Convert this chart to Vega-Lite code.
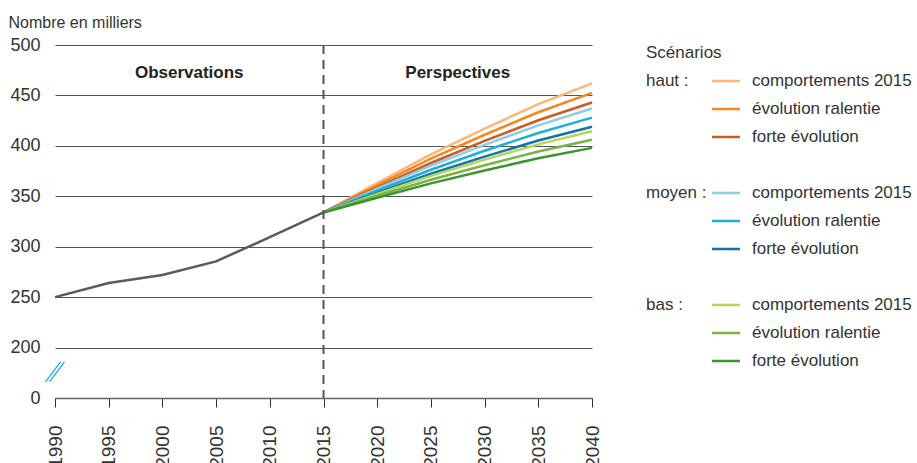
{
  "$schema": "https://vega.github.io/schema/vega-lite/v6.json",
  "padding": {"left": 8, "top": 14, "right": 0, "bottom": 0},
  "config": {
    "view": {"stroke": null},
    "font": "Liberation Sans, Arial, sans-serif",
    "text": {"font": "Liberation Sans, Arial, sans-serif", "color": "#333"}
  },
  "datasets": {
    "series": [
      {"annee": 1990, "valeur": 250, "serie": "observations"},
      {"annee": 1995, "valeur": 264, "serie": "observations"},
      {"annee": 2000, "valeur": 272, "serie": "observations"},
      {"annee": 2005, "valeur": 285.5, "serie": "observations"},
      {"annee": 2010, "valeur": 309.5, "serie": "observations"},
      {"annee": 2015, "valeur": 334, "serie": "observations"},
      {"annee": 2015, "valeur": 334, "serie": "haut_c2015"},
      {"annee": 2020, "valeur": 363.2, "serie": "haut_c2015"},
      {"annee": 2025, "valeur": 391.6, "serie": "haut_c2015"},
      {"annee": 2030, "valeur": 417.2, "serie": "haut_c2015"},
      {"annee": 2035, "valeur": 441.3, "serie": "haut_c2015"},
      {"annee": 2040, "valeur": 462, "serie": "haut_c2015"},
      {"annee": 2015, "valeur": 334, "serie": "haut_ralentie"},
      {"annee": 2020, "valeur": 361.1, "serie": "haut_ralentie"},
      {"annee": 2025, "valeur": 387.3, "serie": "haut_ralentie"},
      {"annee": 2030, "valeur": 411, "serie": "haut_ralentie"},
      {"annee": 2035, "valeur": 433.3, "serie": "haut_ralentie"},
      {"annee": 2040, "valeur": 452.5, "serie": "haut_ralentie"},
      {"annee": 2015, "valeur": 334, "serie": "haut_forte"},
      {"annee": 2020, "valeur": 358.9, "serie": "haut_forte"},
      {"annee": 2025, "valeur": 383, "serie": "haut_forte"},
      {"annee": 2030, "valeur": 404.9, "serie": "haut_forte"},
      {"annee": 2035, "valeur": 425.4, "serie": "haut_forte"},
      {"annee": 2040, "valeur": 443, "serie": "haut_forte"},
      {"annee": 2015, "valeur": 334, "serie": "moyen_c2015"},
      {"annee": 2020, "valeur": 357.5, "serie": "moyen_c2015"},
      {"annee": 2025, "valeur": 380.4, "serie": "moyen_c2015"},
      {"annee": 2030, "valeur": 401, "serie": "moyen_c2015"},
      {"annee": 2035, "valeur": 420.3, "serie": "moyen_c2015"},
      {"annee": 2040, "valeur": 437, "serie": "moyen_c2015"},
      {"annee": 2015, "valeur": 334, "serie": "moyen_ralentie"},
      {"annee": 2020, "valeur": 355.5, "serie": "moyen_ralentie"},
      {"annee": 2025, "valeur": 376.3, "serie": "moyen_ralentie"},
      {"annee": 2030, "valeur": 395.1, "serie": "moyen_ralentie"},
      {"annee": 2035, "valeur": 412.8, "serie": "moyen_ralentie"},
      {"annee": 2040, "valeur": 428, "serie": "moyen_ralentie"},
      {"annee": 2015, "valeur": 334, "serie": "moyen_forte"},
      {"annee": 2020, "valeur": 353.4, "serie": "moyen_forte"},
      {"annee": 2025, "valeur": 372.3, "serie": "moyen_forte"},
      {"annee": 2030, "valeur": 389.3, "serie": "moyen_forte"},
      {"annee": 2035, "valeur": 405.3, "serie": "moyen_forte"},
      {"annee": 2040, "valeur": 419, "serie": "moyen_forte"},
      {"annee": 2015, "valeur": 334, "serie": "bas_c2015"},
      {"annee": 2020, "valeur": 352.4, "serie": "bas_c2015"},
      {"annee": 2025, "valeur": 370.2, "serie": "bas_c2015"},
      {"annee": 2030, "valeur": 386.3, "serie": "bas_c2015"},
      {"annee": 2035, "valeur": 401.5, "serie": "bas_c2015"},
      {"annee": 2040, "valeur": 414.5, "serie": "bas_c2015"},
      {"annee": 2015, "valeur": 334, "serie": "bas_ralentie"},
      {"annee": 2020, "valeur": 350.5, "serie": "bas_ralentie"},
      {"annee": 2025, "valeur": 366.4, "serie": "bas_ralentie"},
      {"annee": 2030, "valeur": 380.8, "serie": "bas_ralentie"},
      {"annee": 2035, "valeur": 394.4, "serie": "bas_ralentie"},
      {"annee": 2040, "valeur": 406, "serie": "bas_ralentie"},
      {"annee": 2015, "valeur": 334, "serie": "bas_forte"},
      {"annee": 2020, "valeur": 348.6, "serie": "bas_forte"},
      {"annee": 2025, "valeur": 362.8, "serie": "bas_forte"},
      {"annee": 2030, "valeur": 375.6, "serie": "bas_forte"},
      {"annee": 2035, "valeur": 387.7, "serie": "bas_forte"},
      {"annee": 2040, "valeur": 398, "serie": "bas_forte"}
    ],
    "periodes": [
      {"annee": 2002.5, "valeur": 472, "texte": "Observations"},
      {"annee": 2027.5, "valeur": 472, "texte": "Perspectives"}
    ],
    "separation": [{"annee": 2015}],
    "coupure": [{"annee": 1990, "valeur": 176}],
    "legende": [
      {"rang": 0, "titre": "Scénarios"},
      {"rang": 1, "groupe": "haut :", "serie": "haut_c2015", "libelle": "comportements 2015"},
      {"rang": 2, "serie": "haut_ralentie", "libelle": "évolution ralentie"},
      {"rang": 3, "serie": "haut_forte", "libelle": "forte évolution"},
      {"rang": 5, "groupe": "moyen :", "serie": "moyen_c2015", "libelle": "comportements 2015"},
      {"rang": 6, "serie": "moyen_ralentie", "libelle": "évolution ralentie"},
      {"rang": 7, "serie": "moyen_forte", "libelle": "forte évolution"},
      {"rang": 9, "groupe": "bas :", "serie": "bas_c2015", "libelle": "comportements 2015"},
      {"rang": 10, "serie": "bas_ralentie", "libelle": "évolution ralentie"},
      {"rang": 11, "serie": "bas_forte", "libelle": "forte évolution"}
    ]
  },
  "hconcat": [
    {
      "width": 537,
      "height": 353,
      "layer": [
        {
          "data": {"name": "series"},
          "mark": {"type": "line", "strokeWidth": 2.5},
          "encoding": {
            "x": {
              "field": "annee", "type": "quantitative",
              "scale": {"domain": [1990, 2040], "nice": false, "zero": false},
              "axis": {
                "title": null, "values": [1990,1995,2000,2005,2010,2015,2020,2025,2030,2035,2040],
                "format": "d", "labelAngle": -90, "labelFontSize": 19, "labelColor": "#333",
                "labelPadding": 18, "tickSize": 9, "tickColor": "#333", "tickWidth": 1,
                "domainColor": "#666", "domainWidth": 1.5, "grid": false,
                "labelFont": "Liberation Sans, Arial, sans-serif"
              }
            },
            "y": {
              "field": "valeur", "type": "quantitative",
              "scale": {"domain": [150, 500], "nice": false, "zero": false},
              "axis": {
                "title": "Nombre en milliers", "titleAngle": 0, "titleX": -47, "titleY": -18,
                "titleAlign": "left", "titleBaseline": "alphabetic", "titleFontSize": 16,
                "titleFontWeight": "normal", "titleColor": "#333",
                "titleFont": "Liberation Sans, Arial, sans-serif",
                "values": [150,200,250,300,350,400,450,500],
                "labelExpr": "datum.value == 150 ? '0' : datum.label",
                "labelFontSize": 18, "labelColor": "#333", "labelPadding": 15,
                "labelFont": "Liberation Sans, Arial, sans-serif",
                "ticks": false, "domain": false, "grid": true, "gridColor": "#555", "gridWidth": 1
              }
            },
            "color": {
              "field": "serie", "type": "nominal", "legend": null,
              "scale": {
                "domain": ["observations","haut_c2015","haut_ralentie","haut_forte","moyen_c2015","moyen_ralentie","moyen_forte","bas_c2015","bas_ralentie","bas_forte"],
                "range": ["#5a5a5a","#FDB578","#F7861F","#CD5B23","#8DCDE8","#20AEDB","#1173A9","#B3D65B","#78B444","#3B9332"]
              }
            }
          }
        },
        {
          "data": {"name": "separation"},
          "mark": {"type": "rule", "strokeDash": [9, 6], "strokeWidth": 2, "color": "#555"},
          "encoding": {"x": {"field": "annee", "type": "quantitative"}}
        },
        {
          "data": {"name": "periodes"},
          "mark": {"type": "text", "fontSize": 17, "fontWeight": "bold", "color": "#222", "baseline": "middle"},
          "encoding": {
            "x": {"field": "annee", "type": "quantitative"},
            "y": {"field": "valeur", "type": "quantitative"},
            "text": {"field": "texte"}
          }
        },
        {
          "data": {"name": "coupure"},
          "mark": {"type": "point", "shape": "M-0.86,0.91L0.5,-0.91M-0.5,0.91L0.86,-0.91", "filled": false, "size": 484, "strokeWidth": 1.3, "color": "#1AAFD8", "opacity": 1, "dx": -2, "clip": false},
          "encoding": {
            "x": {"field": "annee", "type": "quantitative"},
            "y": {"field": "valeur", "type": "quantitative"}
          }
        }
      ]
    },
    {
      "width": 80,
      "height": 324,
      "data": {"name": "legende"},
      "encoding": {
        "y": {
          "field": "rang", "type": "ordinal",
          "scale": {"type": "point", "domain": [0,1,2,3,4,5,6,7,8,9,10,11], "padding": 0.2857},
          "axis": null
        }
      },
      "layer": [
        {
          "transform": [{"filter": "datum.titre"}],
          "mark": {"type": "text", "align": "left", "baseline": "middle", "fontSize": 17},
          "encoding": {
            "x": {"datum": "groupe", "type": "nominal", "scale": {"type": "point", "domain": ["groupe", "trait"], "padding": 0}, "axis": null},
            "text": {"field": "titre"}
          }
        },
        {
          "transform": [{"filter": "datum.groupe"}],
          "mark": {"type": "text", "align": "left", "baseline": "middle", "fontSize": 17},
          "encoding": {
            "x": {"datum": "groupe", "type": "nominal"},
            "text": {"field": "groupe"}
          }
        },
        {
          "transform": [{"filter": "datum.serie"}],
          "mark": {"type": "point", "shape": "stroke", "filled": false, "size": 784, "strokeWidth": 2.5, "opacity": 1},
          "encoding": {
            "x": {"datum": "trait", "type": "nominal"},
            "color": {"field": "serie", "type": "nominal", "legend": null}
          }
        },
        {
          "transform": [{"filter": "datum.serie"}],
          "mark": {"type": "text", "align": "left", "baseline": "middle", "fontSize": 17, "dx": 26},
          "encoding": {
            "x": {"datum": "trait", "type": "nominal"},
            "text": {"field": "libelle"}
          }
        }
      ]
    }
  ],
  "spacing": 44
}
